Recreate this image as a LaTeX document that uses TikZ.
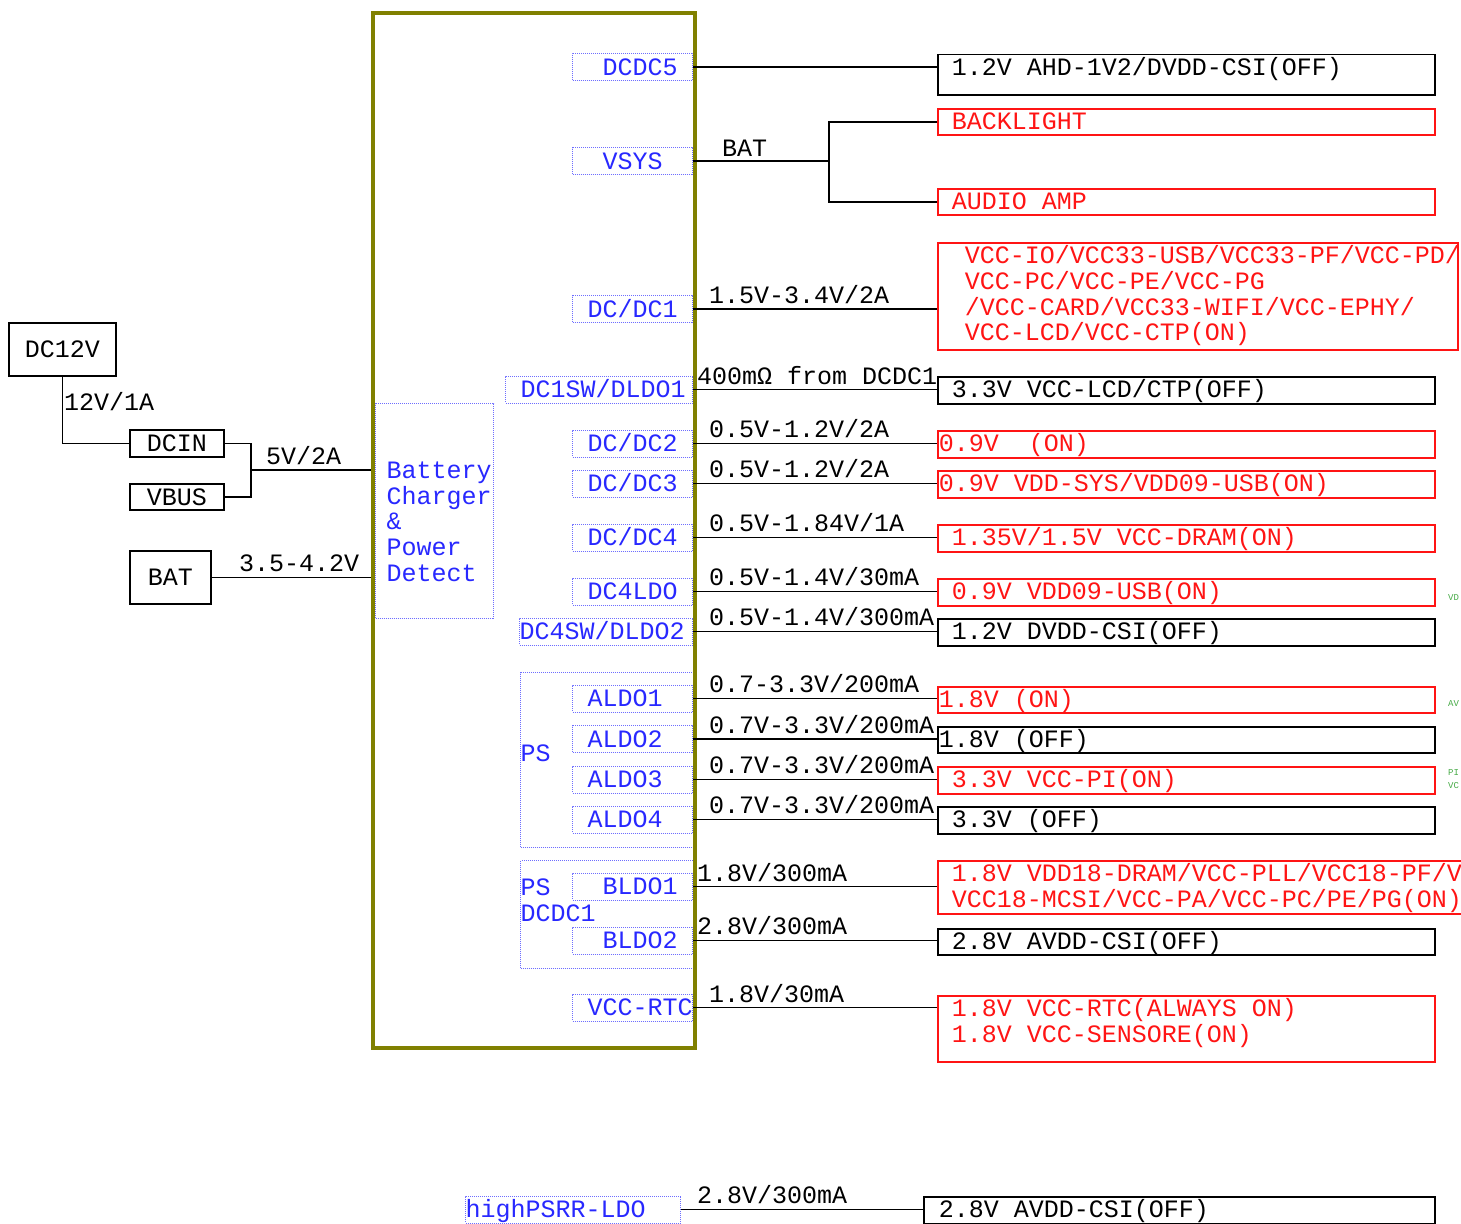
\documentclass[tikz,border=0pt]{standalone}
\usepackage{fontspec}
\setmonofont{Liberation Mono}
\usetikzlibrary{positioning}
\definecolor{pmuolive}{RGB}{128,128,0}
\definecolor{portblue}{RGB}{40,40,255}
\definecolor{dotblue}{RGB}{110,110,255}
\definecolor{onred}{RGB}{255,20,20}
\definecolor{notegreen}{RGB}{70,170,70}
\tikzset{
    fixspace/.style={execute at begin node={\spaceskip=15pt\relax}},
    port/.style={fixspace, draw=dotblue, densely dotted, line width=1pt, text=portblue, anchor=east, align=left,
        inner sep=0pt, text width=120pt, minimum height=27pt, text height=16pt, text depth=0pt},
    grp/.style={port, anchor=north west, text width=173pt},
    blk/.style={draw, line width=1.5pt, inner sep=0pt, text height=16pt, text depth=0pt},
    load/.style={fixspace, draw, line width=1.5pt, anchor=north west, align=left, inner ysep=0pt,
        inner xsep=14pt, text width=469pt, text height=21pt, text depth=6pt},
    onload/.style={load, draw=onred, text=onred},
    wire/.style={line width=1.5pt},
    val/.style={anchor=base west, inner sep=0pt},
    note/.style={anchor=west, inner sep=0pt, align=left, text=notegreen, font=\ttfamily\fontsize{9}{13}\selectfont},
}
\begin{document}
\begin{tikzpicture}[x=1pt, y=-1pt, font=\ttfamily\fontsize{25}{25.7}\selectfont]
    \useasboundingbox (0,0) rectangle (1461,1223);
    \clip (0,0) rectangle (1461,1223);

    \node[blk, minimum width=107pt, minimum height=53pt] (dc12v) at (62.5,349.5) {DC12V};
    \node[blk, minimum width=94pt, minimum height=27pt] (dcin) at (177,443.5) {DCIN};
    \node[blk, minimum width=94pt, minimum height=26pt] (vbus) at (177,497) {VBUS};
    \node[blk, minimum width=81pt, minimum height=53pt] (bat) at (170.5,577.5) {BAT};

    \node[grp, text width=116pt, inner xsep=1pt, text height=75pt, text depth=140pt] (bcpd) at (375,403) {\hspace*{10pt}Battery\\\hspace*{10pt}Charger\\\hspace*{10pt}\&\\\hspace*{10pt}Power\\\hspace*{10pt}Detect};
    \node[grp, text height=89pt, text depth=86pt] (psa) at (520,672) {PS};
    \node[grp, text height=35pt, text depth=73pt] (psb) at (520,860) {PS\\DCDC1};

    \node[port] (dcdc5) at (693,67) {~~DCDC5};
    \node[port] (vsys) at (693,161) {~~VSYS};
    \node[port] (dcdc1) at (693,309) {~DC/DC1};
    \node[port, text width=187pt] (dc1sw) at (693,389.5) {~DC1SW/DLDO1};
    \node[port] (dcdc2) at (693,443.5) {~DC/DC2};
    \node[port] (dcdc3) at (693,483.5) {~DC/DC3};
    \node[port] (dcdc4) at (693,537.5) {~DC/DC4};
    \node[port] (dc4ldo) at (693,591.5) {~DC4LDO};
    \node[port, text width=173pt] (dc4sw) at (693,631.5) {DC4SW/DLDO2};
    \node[port] (aldo1) at (693,698.5) {~ALDO1};
    \node[port] (aldo2) at (693,739) {~ALDO2};
    \node[port] (aldo3) at (693,779.5) {~ALDO3};
    \node[port] (aldo4) at (693,819.5) {~ALDO4};
    \node[port] (bldo1) at (693,886.5) {~~BLDO1};
    \node[port] (bldo2) at (693,940.5) {~~BLDO2};
    \node[port] (vccrtc) at (693,1007.5) {~VCC-RTC};
    \node[port, text width=215pt] (hpsrr) at (681,1209.5) {highPSRR-LDO};

    \node[draw=pmuolive, line width=4pt, inner sep=0pt, minimum width=322.5pt, minimum height=1035pt] (pmu) at (533.75,530.5) {};

    \draw[wire] (dc12v.south) |- (dcin.west);
    \node[val] (v12) at (64,410) {12V/1A};
    \coordinate (jn) at (251,470);
    \draw[wire] (dcin.east) -| (jn) |- (vbus.east);
    \draw[wire] (jn) -- (jn -| pmu.west);
    \node[val] (v5) at (266,464) {5V/2A};
    \draw[wire] (bat.east) -- (bat.east -| pmu.west);
    \node[val] (vbat) at (239,571) {3.5-4.2V};

    \node[load, text depth=19pt] (ld5) at (937,54) {1.2V AHD-1V2/DVDD-CSI(OFF)};
    \node[onload, text depth=5pt] (lbl) at (937,108) {BACKLIGHT};
    \node[onload, text depth=5pt] (lamp) at (937,188) {AUDIO AMP};
    \node[onload, inner xsep=12pt, text width=496pt, text depth=86pt] (ld1) at (937,242) {~VCC-IO/VCC33-USB/VCC33-PF/VCC-PD/\\~VCC-PC/VCC-PE/VCC-PG\\~/VCC-CARD/VCC33-WIFI/VCC-EPHY/\\~VCC-LCD/VCC-CTP(ON)};
    \node[load] (ldlcd) at (937,376) {3.3V VCC-LCD/CTP(OFF)};
    \node[onload, inner xsep=1pt, text width=495pt] (ld2) at (937,430) {0.9V~~(ON)};
    \node[onload, inner xsep=1pt, text width=495pt] (ld3) at (937,470) {0.9V VDD-SYS/VDD09-USB(ON)};
    \node[onload] (ld4) at (937,524) {1.35V/1.5V VCC-DRAM(ON)};
    \node[onload] (ld4l) at (937,578) {0.9V VDD09-USB(ON)};
    \node[load] (ld4sw) at (937,618) {1.2V DVDD-CSI(OFF)};
    \node[onload, inner xsep=1pt, text width=495pt, text depth=5pt] (la1) at (937,686) {1.8V (ON)};
    \node[load, inner xsep=1pt, text width=495pt, text depth=5pt] (la2) at (937,726) {1.8V (OFF)};
    \node[onload] (la3) at (937,766) {3.3V VCC-PI(ON)};
    \node[load] (la4) at (937,806) {3.3V (OFF)};
    \node[onload, text width=520pt, text depth=32pt] (lb1) at (937,860) {1.8V VDD18-DRAM/VCC-PLL/VCC18-PF/V\\VCC18-MCSI/VCC-PA/VCC-PC/PE/PG(ON)};
    \node[load, text depth=5pt] (lb2) at (937,928) {2.8V AVDD-CSI(OFF)};
    \node[onload, text depth=45pt] (lrtc) at (937,995) {1.8V VCC-RTC(ALWAYS ON)\\1.8V VCC-SENSORE(ON)};
    \node[load, inner xsep=15pt, text width=481pt] (lhp) at (923,1196) {2.8V AVDD-CSI(OFF)};

    \draw[wire] (dcdc5.east) -- (dcdc5.east -| ld5.west);
    \coordinate (br) at (829,161);
    \draw[wire] (vsys.east) -- (br);
    \draw[wire] (lbl.west) -| (br) |- (lamp.west);
    \node[val] (vsysv) at (722,156) {BAT};
    \draw[wire] (dcdc1.east) -- (dcdc1.east -| ld1.west);
    \node[val] (vdc1) at (709,303) {1.5V-3.4V/2A};
    \draw[wire] (dc1sw.east) -- (dc1sw.east -| ldlcd.west);
    \node[val] (vsw1) at (697,384) {400mΩ from DCDC1};
    \draw[wire] (dcdc2.east) -- (dcdc2.east -| ld2.west);
    \node[val] (vdc2) at (709,437) {0.5V-1.2V/2A};
    \draw[wire] (dcdc3.east) -- (dcdc3.east -| ld3.west);
    \node[val] (vdc3) at (709,477) {0.5V-1.2V/2A};
    \draw[wire] (dcdc4.east) -- (dcdc4.east -| ld4.west);
    \node[val] (vdc4) at (709,531) {0.5V-1.84V/1A};
    \draw[wire] (dc4ldo.east) -- (dc4ldo.east -| ld4l.west);
    \node[val] (vldo4) at (709,585) {0.5V-1.4V/30mA};
    \draw[wire] (dc4sw.east) -- (dc4sw.east -| ld4sw.west);
    \node[val] (vsw4) at (709,625) {0.5V-1.4V/300mA};
    \draw[wire] (aldo1.east) -- (aldo1.east -| la1.west);
    \node[val] (va1) at (709,692) {0.7-3.3V/200mA};
    \draw[wire] (aldo2.east) -- (aldo2.east -| la2.west);
    \node[val] (va2) at (709,733) {0.7V-3.3V/200mA};
    \draw[wire] (aldo3.east) -- (aldo3.east -| la3.west);
    \node[val] (va3) at (709,773) {0.7V-3.3V/200mA};
    \draw[wire] (aldo4.east) -- (aldo4.east -| la4.west);
    \node[val] (va4) at (709,813) {0.7V-3.3V/200mA};
    \draw[wire] (bldo1.east) -- (bldo1.east -| lb1.west);
    \node[val] (vb1) at (697,881) {1.8V/300mA};
    \draw[wire] (bldo2.east) -- (bldo2.east -| lb2.west);
    \node[val] (vb2) at (697,934) {2.8V/300mA};
    \draw[wire] (vccrtc.east) -- (vccrtc.east -| lrtc.west);
    \node[val] (vrtc) at (709,1002) {1.8V/30mA};
    \draw[wire] (hpsrr.east) -- (hpsrr.east -| lhp.west);
    \node[val] (vhp) at (697,1203) {2.8V/300mA};

    \node[note] (nvd) at (1448,598) {VD};
    \node[note] (nav) at (1448,704) {AV};
    \node[note] (npi) at (1448,779) {PI\\VC};
\end{tikzpicture}
\end{document}
